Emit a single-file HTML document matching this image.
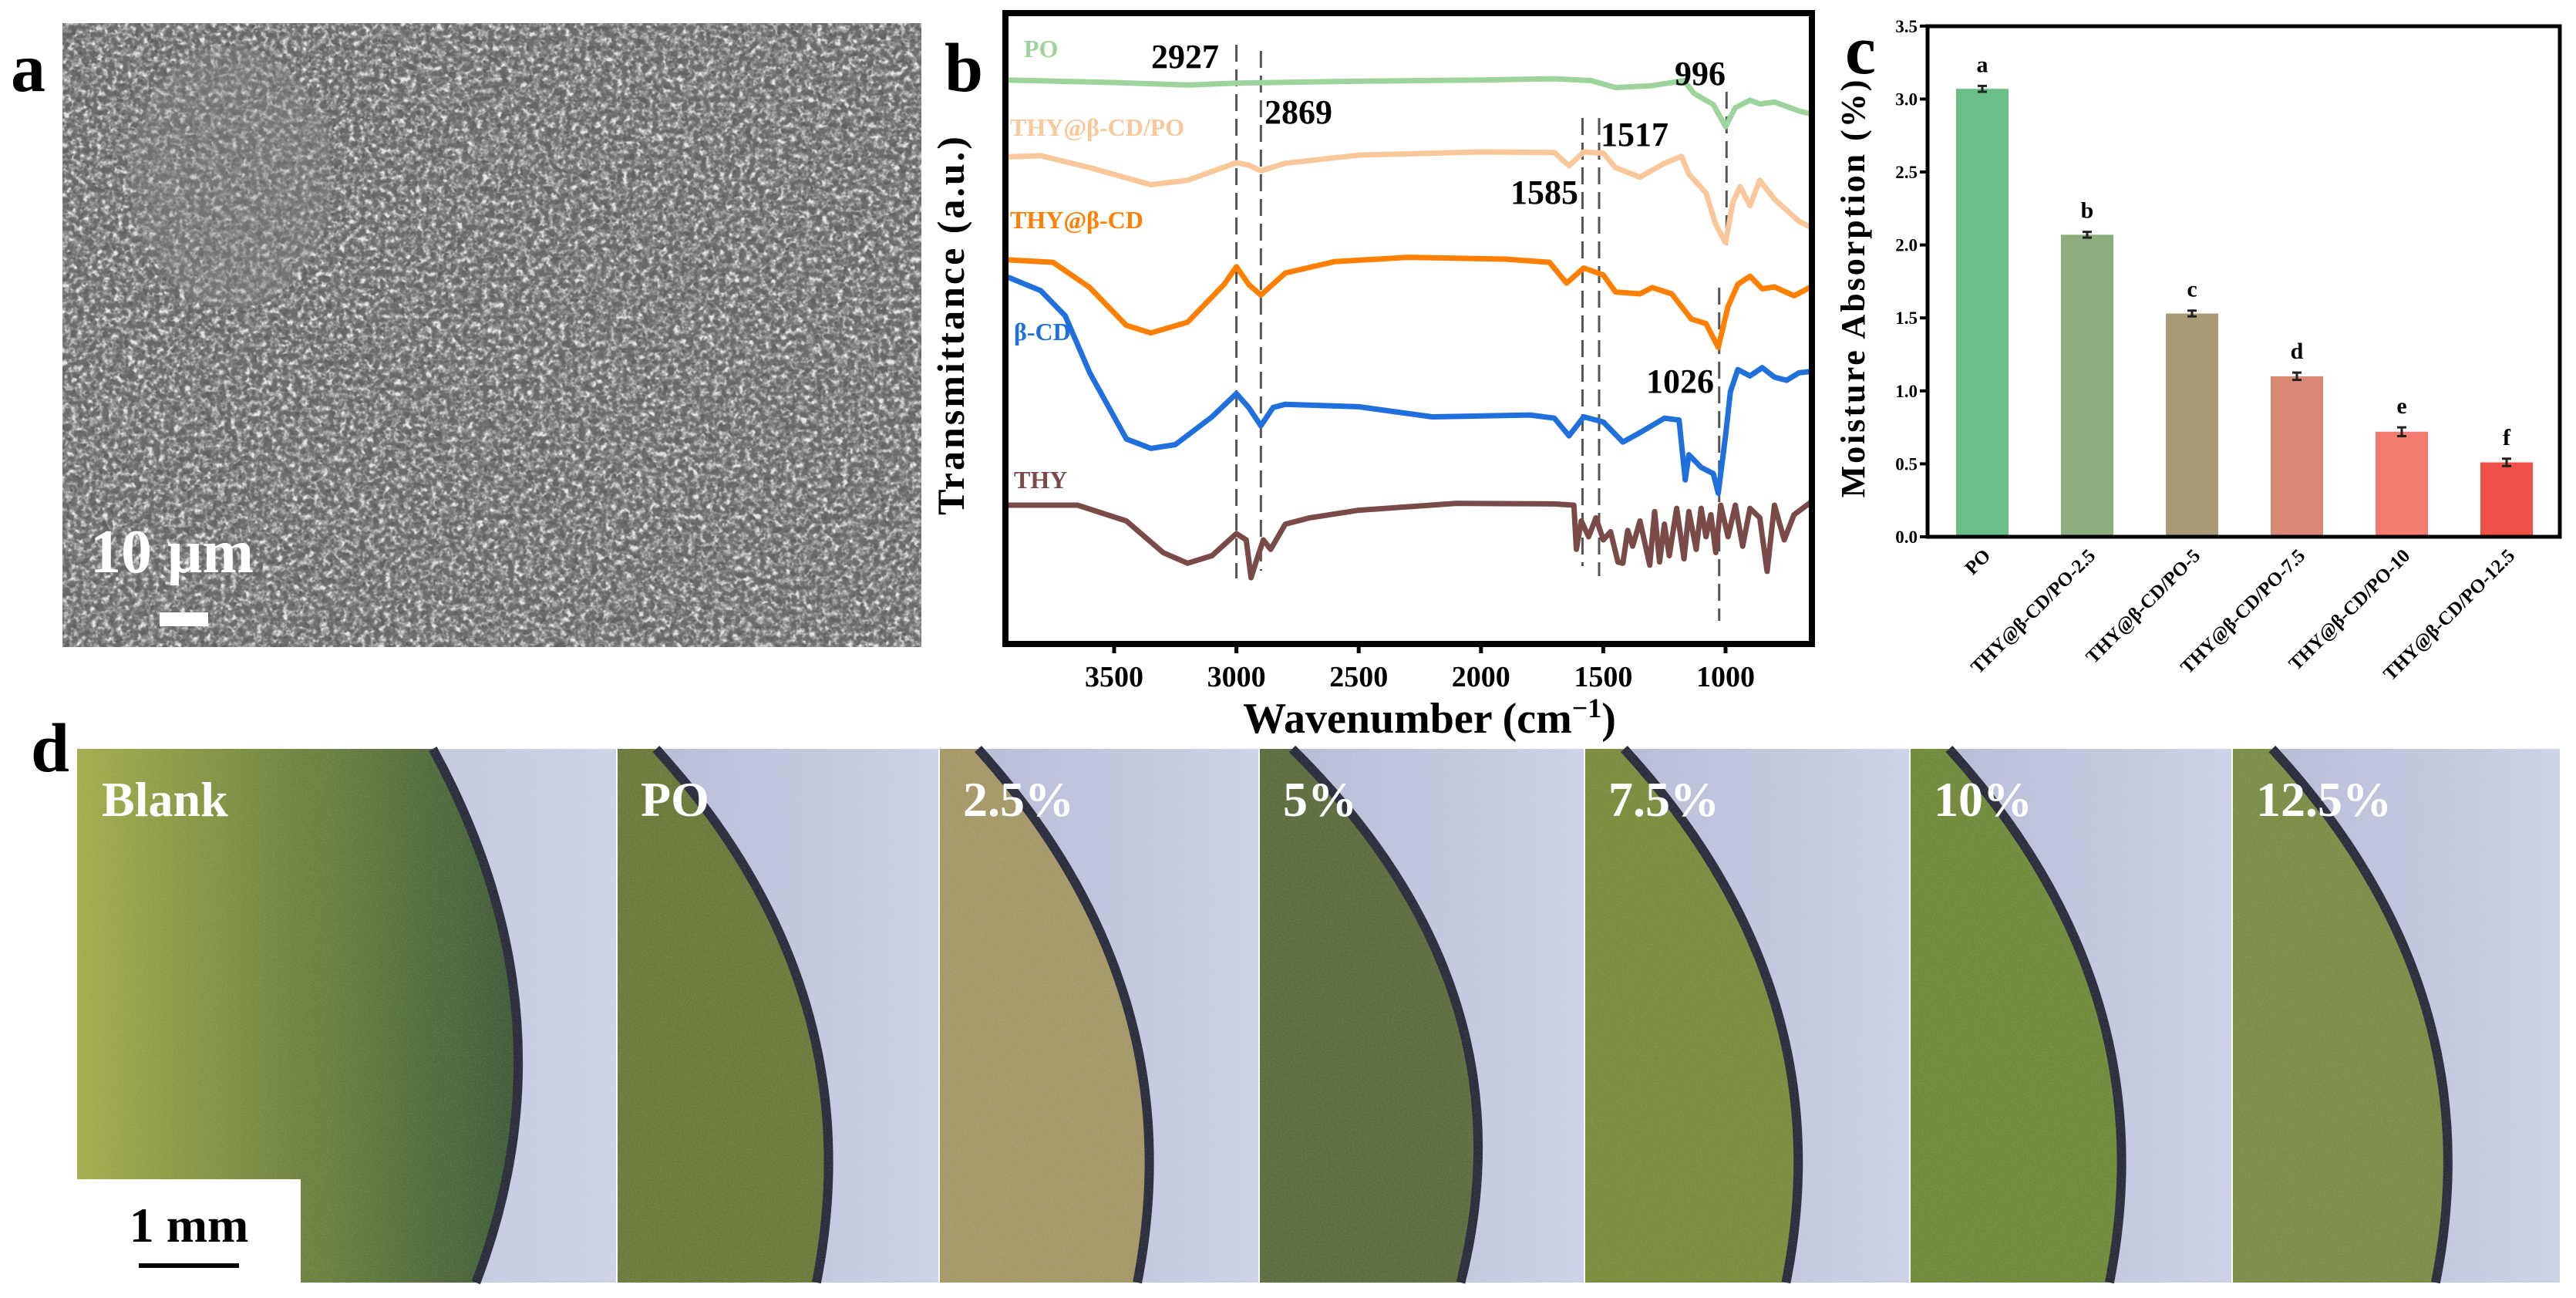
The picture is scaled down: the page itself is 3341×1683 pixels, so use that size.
<!DOCTYPE html>
<html><head><meta charset="utf-8"><style>
html,body{margin:0;padding:0;background:#fff;}
svg{display:block;font-family:"Liberation Serif",serif;font-weight:bold;}
</style></head><body>
<svg id="root" width="3341" height="1683" viewBox="0 0 3341 1683">
<defs>
<filter id="sem" x="0" y="0" width="100%" height="100%">
<feTurbulence type="fractalNoise" baseFrequency="0.12" numOctaves="3" seed="4"/>
<feColorMatrix type="matrix" values="0 0 0 0 0.8  0 0 0 0 0.8  0 0 0 0 0.8  1.6 1.6 1.6 0 -1.9"/>
</filter>
<filter id="semd" x="0" y="0" width="100%" height="100%">
<feTurbulence type="fractalNoise" baseFrequency="0.15" numOctaves="2" seed="11"/>
<feColorMatrix type="matrix" values="0 0 0 0 0.15  0 0 0 0 0.15  0 0 0 0 0.15  1.6 1.6 1.6 0 -1.9"/>
</filter>
<filter id="grain" x="0" y="0" width="100%" height="100%">
<feTurbulence type="fractalNoise" baseFrequency="0.5" numOctaves="2" seed="7"/>
<feColorMatrix type="matrix" values="0 0 0 0 1  0 0 0 0 1  0 0 0 0 1  0 0 0 0.35 -0.12"/>
</filter>
<linearGradient id="blankG" x1="0" y1="0" x2="1" y2="0">
<stop offset="0" stop-color="#a3ad4c"/><stop offset="0.35" stop-color="#7e9042"/><stop offset="1" stop-color="#3f5c38"/>
</linearGradient>
<linearGradient id="bgG" x1="0" y1="0" x2="1" y2="0">
<stop offset="0" stop-color="#b4b9d4"/><stop offset="1" stop-color="#cdd1e6"/>
</linearGradient>
</defs>

<!-- Panel a -->
<g>
<rect x="81" y="30" width="1114" height="809" fill="#5f5f5f"/>
<rect x="81" y="30" width="1114" height="809" filter="url(#sem)"/>
<rect x="81" y="30" width="1114" height="809" filter="url(#semd)"/>
<ellipse cx="300" cy="230" rx="130" ry="170" fill="#8a8a8a" opacity="0.3"/>
<text x="117" y="742" font-size="80" fill="#fff">10 μm</text>
<rect x="207" y="794" width="63" height="18" fill="#fff"/>
</g>
<text x="14" y="118" font-size="90" fill="#000">a</text>

<g id="ftir"></g>
<g id="bars"></g>
<g id="photos"></g>
<text x="40" y="1000" font-size="90" fill="#000">d</text>
</svg>
<script>
const NS='http://www.w3.org/2000/svg';
function mk(tag,attrs,parent){const e=document.createElementNS(NS,tag);for(const k in attrs)e.setAttribute(k,attrs[k]);parent.appendChild(e);return e;}

// ---------- FTIR data ----------
const ftirNames=['PO','THY@β-CD/PO','THY@β-CD','β-CD','THY'];
const ftirColors=['#9dd49b','#f9c79a','#ff7f00','#1f6fdd','#7a4a48'];
const seriesPO=[[3944,89.4],[3500,89.0],[3200,88.6],[3000,88.9],[2500,89.2],[2000,89.4],[1700,89.6],[1550,89.3],[1450,88.2],[1300,88.5],[1170,89.3],[1130,87.3],[1050,85.5],[1000,82.0],[960,85.0],[900,86.2],[860,85.6],[800,85.9],[700,84.5],[650,84.0]];
const seriesTHYCDPO=[[3944,77.2],[3800,77.4],[3600,75.5],[3350,72.8],[3200,73.5],[3000,76.3],[2950,75.9],[2900,75.0],[2800,76.2],[2500,77.5],[2000,78.0],[1700,77.9],[1640,75.8],[1580,78.0],[1500,77.8],[1450,75.5],[1350,74.0],[1250,76.2],[1180,77.3],[1150,74.5],[1080,71.5],[1040,66.5],[1000,63.6],[970,70.0],[940,72.5],[900,69.5],[860,73.5],[800,70.5],[700,67.0],[650,66.0]];
const seriesTHYCD=[[3944,60.9],[3750,60.5],[3600,56.5],[3450,50.5],[3350,49.3],[3200,51.0],[3050,57.0],[3000,59.8],[2950,57.0],[2900,55.3],[2800,58.8],[2600,60.6],[2300,61.3],[1900,61.0],[1720,60.5],[1650,57.2],[1580,59.6],[1500,58.5],[1450,55.8],[1350,55.5],[1300,56.5],[1220,55.5],[1170,53.0],[1140,51.5],[1080,50.8],[1030,47.0],[990,53.5],[950,57.0],[900,58.3],[850,56.3],[800,56.6],[720,55.2],[650,56.6]];
const seriesBCD=[[3944,58.3],[3800,56.0],[3700,52.0],[3600,43.0],[3450,32.5],[3350,31.0],[3250,31.6],[3100,36.0],[3000,39.7],[2950,37.5],[2900,34.6],[2850,37.5],[2800,38.0],[2500,37.6],[2200,36.0],[1800,36.3],[1700,35.8],[1640,33.0],[1580,36.0],[1500,35.2],[1420,32.0],[1350,33.5],[1250,35.8],[1190,35.5],[1165,26.0],[1150,30.0],[1100,28.0],[1050,27.0],[1030,23.9],[1000,33.0],[980,40.0],[950,43.5],[900,42.5],[850,43.8],[800,42.3],[750,41.8],[700,43.0],[650,43.2]];
const seriesTHY=[[3944,22.0],[3650,22.0],[3450,19.5],[3300,14.5],[3200,12.8],[3100,14.0],[3000,17.5],[2960,16.5],[2940,10.5],[2920,13.0],[2890,16.5],[2860,15.0],[2800,19.0],[2700,20.0],[2500,21.2],[2100,22.3],[1700,22.2],[1620,22.0],[1610,15.0],[1590,19.5],[1560,17.0],[1530,20.0],[1500,16.5],[1470,17.8],[1440,13.0],[1420,12.8],[1400,18.0],[1380,15.5],[1350,19.5],[1310,12.5],[1290,21.0],[1270,13.0],[1250,19.0],[1230,14.0],[1200,21.5],[1170,13.5],[1150,21.0],[1120,15.0],[1100,21.5],[1080,17.0],[1060,20.5],[1040,14.5],[1020,22.0],[990,17.0],[960,22.0],[930,15.5],[900,21.5],[860,20.0],[830,11.5],[800,22.0],[760,16.5],[720,20.5],[650,22.5]];
const ftirTicks=[3500,3000,2500,2000,1500,1000];
const peakLabels=['2927','2869','1585','1517','996','1026'];
const dashPositions=[3000,2900,1585,1517,996,1026];

// ---------- bar data ----------
const barCategories=['PO','THY@β-CD/PO-2.5','THY@β-CD/PO-5','THY@β-CD/PO-7.5','THY@β-CD/PO-10','THY@β-CD/PO-12.5'];
const barValues=[3.07,2.07,1.53,1.10,0.72,0.51];
const barErrors=[0.02,0.02,0.02,0.025,0.03,0.025];
const barLetters=['a','b','c','d','e','f'];
const barColors=['#6abf86','#8cad7c','#a89a75','#d98876','#f27b70','#ef5146'];
const barTicks=['0.0','0.5','1.0','1.5','2.0','2.5','3.0','3.5'];

(function(){
const g=document.getElementById('ftir');
const L=1304,R=2350,T=17,B=835;
const xs=v=>1445+(3500-v)*0.3172;
const ys=v=>B-v*8.18;
const clip=mk('clipPath',{id:'ftirclip'},g);mk('rect',{x:L,y:T,width:R-L,height:B-T},clip);
const data=[seriesPO,seriesTHYCDPO,seriesTHYCD,seriesBCD,seriesTHY];
const names=['po','thy-cd-po','thy-cd','beta-cd','thy'];
const plot=mk('g',{'clip-path':'url(#ftirclip)'},g);
const dashRanges=[[58,750],[66,740],[153,734],[153,747],[119,318],[373,805]];
dashPositions.forEach((p,i)=>{
 const l=mk('line',{x1:xs(p),x2:xs(p),y1:dashRanges[i][0],y2:dashRanges[i][1],stroke:'#555','stroke-width':3,'stroke-dasharray':'22 10'},plot);
 
 
});
data.forEach((s,i)=>{
 const d=s.map((p,j)=>(j?'L':'M')+xs(p[0]).toFixed(1)+','+ys(p[1]).toFixed(1)).join(' ');
 const path=mk('path',{d:d,fill:'none',stroke:ftirColors[i],'stroke-width':7,'stroke-linejoin':'round'},plot);
 
 
});
mk('rect',{x:L,y:T,width:R-L,height:B-T,fill:'none',stroke:'#000','stroke-width':8},g);
const lblPos=[[1328,74],[1310,176],[1310,296],[1315,441],[1315,633]];
ftirNames.forEach((n,i)=>{
 const t=mk('text',{x:lblPos[i][0],y:lblPos[i][1],'font-size':32,fill:ftirColors[i]},g);t.textContent=n;
 
 
});
const pkPos=[[1493,88],[1640,160],[1959,264],[2076,189],[2172,110],[2135,509]];
peakLabels.forEach((n,i)=>{
 const t=mk('text',{x:pkPos[i][0],y:pkPos[i][1],'font-size':44,fill:'#000'},g);t.textContent=n;
 
 
});
ftirTicks.forEach(v=>{
 mk('line',{x1:xs(v),x2:xs(v),y1:B,y2:B+12,stroke:'#000','stroke-width':5},g);
 const t=mk('text',{x:xs(v),y:890,'font-size':38,'text-anchor':'middle',fill:'#000'},g);t.textContent=v;
 
 
});
const xt=mk('text',{x:1854,y:950,'font-size':56,'text-anchor':'middle',fill:'#000'},g);
xt.innerHTML='Wavenumber (cm<tspan baseline-shift="super" font-size="36">−1</tspan>)';


const yt=mk('text',{x:0,y:0,'font-size':50,'text-anchor':'middle',fill:'#000','letter-spacing':3,transform:'translate(1250,421) rotate(-90)'},g);
yt.textContent='Transmittance (a.u.)';


const bl=mk('text',{x:1225,y:118,'font-size':90,fill:'#000'},g);bl.textContent='b';


})();

(function(){
const g=document.getElementById('bars');
const L=2500,R=3320,T=34,B=696;
const ys=v=>B-v*189.2;
const xc=i=>2571+i*136;
const bw=68;
barValues.forEach((v,i)=>{
 const r=mk('rect',{x:xc(i)-bw/2,y:ys(v),width:bw,height:B-ys(v),fill:barColors[i]},g);
 
 
 const e=barErrors[i];
 const eb=mk('path',{d:`M${xc(i)},${ys(v+e)} V${ys(v-e)} M${xc(i)-6},${ys(v+e)} H${xc(i)+6} M${xc(i)-6},${ys(v-e)} H${xc(i)+6}`,stroke:'#222','stroke-width':3,fill:'none'},g);
 
 
 const t=mk('text',{x:xc(i),y:ys(v+e)-18,'font-size':30,'text-anchor':'middle',fill:'#000'},g);t.textContent=barLetters[i];
 
 
 const xl=mk('text',{x:0,y:0,'font-size':25,'text-anchor':'end',fill:'#000',transform:`translate(${xc(i)+12},${B+26}) rotate(-45)`},g);
 xl.textContent=barCategories[i];
 
 
});
mk('rect',{x:L,y:T,width:R-L,height:B-T,fill:'none',stroke:'#000','stroke-width':5},g);
barTicks.forEach(s=>{
 const v=parseFloat(s);
 mk('line',{x1:L-10,x2:L,y1:ys(v),y2:ys(v),stroke:'#000','stroke-width':4},g);
 const t=mk('text',{x:L-13,y:ys(v)+8,'font-size':23,'text-anchor':'end',fill:'#000'},g);t.textContent=s;
 
 
});
const yt=mk('text',{x:0,y:0,'font-size':44,'text-anchor':'middle',fill:'#000','letter-spacing':3,transform:'translate(2418,373) rotate(-90)'},g);
yt.textContent='Moisture Absorption (%)';


const cl=mk('text',{x:2393,y:95,'font-size':90,fill:'#000'},g);cl.textContent='c';


})();

(function(){
const g=document.getElementById('photos');
const photos=[['Blank',100,799],['PO',801,1217],['2.5%',1219,1632],['5%',1634,2054],['7.5%',2056,2476],['10%',2478,2894],['12.5%',2896,3320]];
const leafCols=['url(#blankG)','#6a7a3a','#a49867','#5d6d3f','#7a8c3d','#708a3a','#7b8d45'];
const T=971,H=692;
photos.forEach((p,i)=>{
 const x=p[1],w=p[2]-p[1];
 const pg=mk('g',{},g);
 
 
 mk('rect',{x:x,y:T,width:w,height:H,fill:'url(#bgG)'},pg);
 let curve;
 if(i===0){curve=`M${x+0.66*w},${T} Q${x+0.93*w},${T+0.5*H} ${x+0.74*w},${T+H}`;}
 else {const x0=i===3?0.1:0.12;const bx=i===3?0.85:0.8;
   curve=`M${x+x0*w},${T} Q${x+bx*w},${T+0.45*H} ${x+0.62*w},${T+H}`;}
 const d=`M${x},${T} L`+curve.slice(1)+` L${x},${T+H} Z`;
 mk('path',{d:d,fill:leafCols[i]},pg);
 mk('path',{d:curve,fill:'none',stroke:'#2a2c3c','stroke-width':12},pg);
 mk('rect',{x:x,y:T,width:w,height:H,filter:'url(#grain)',opacity:0.5},pg);
 const t=mk('text',{x:x+(i===0?32:30),y:1058,'font-size':64,fill:'#fff'},pg);t.textContent=p[0];
 
 
});
const sb=mk('g',{},g);


mk('rect',{x:100,y:1529,width:290,height:154,fill:'#fff'},sb);
const st=mk('text',{x:245,y:1610,'font-size':64,'text-anchor':'middle',fill:'#000'},sb);st.textContent='1 mm';
mk('rect',{x:180,y:1638,width:130,height:6,fill:'#000'},sb);
})();
</script>
</body></html>
